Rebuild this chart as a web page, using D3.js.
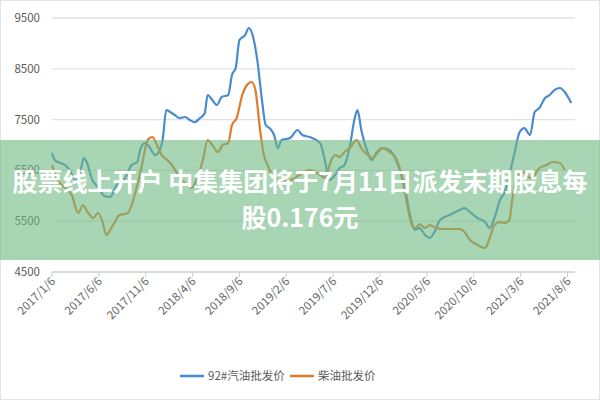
<!DOCTYPE html>
<html><head><meta charset="utf-8">
<script src="https://cdn.jsdelivr.net/npm/d3@7"></script>
<style>body{margin:0;background:#fff}</style>
</head><body>
<svg id="c" width="600" height="400"></svg>
<script>
// months since 2017/1/6 and price
const gasMonth = [0,.3,.9,1.4,1.9,2.5,3.0,3.4,3.7,4.3,4.7,5.1,5.6,6.2,6.9,7.8,8.5,9.1,9.4,9.9,10.4,11.0,11.5,11.8,12.2,12.6,13.1,13.6,14.2,14.7,15.2,15.8,16.3,16.6,17.1,17.6,18.1,18.8,19.2,19.6,20.0,20.6,21.0,21.4,21.9,22.4,22.8,23.2,23.7,24.1,24.5,25.4,26.2,26.7,27.5,28.6,29.1,29.6,30.2,30.7,31.2,31.8,32.3,32.6,33.0,33.6,34.1,34.6,35.2,36.0,36.6,37.1,37.6,38.2,38.7,39.2,39.8,40.3,40.8,41.4,42.4,43.5,44.0,44.6,45.4,46.2,46.7,47.3,47.8,48.3,48.8,49.3,49.9,50.4,51.0,51.5,52.0,52.6,53.1,53.6,54.2,54.7,55.4];
const gasPrice = [6842,6704,6645,6606,6507,6310,6468,6743,6665,6310,6212,6113,5995,5976,6212,6350,6606,6665,6901,7039,6960,6802,6901,7098,7689,7649,7590,7531,7551,7492,7452,7531,7630,7984,7886,7787,7945,7984,8378,8516,9067,9165,9303,9165,8674,7886,7393,7334,7196,6940,7098,7137,7295,7196,7157,7039,6704,6310,6409,6547,6606,7000,7531,7689,7295,6901,6704,6842,6940,6901,6743,6507,6212,5621,5326,5365,5228,5169,5287,5523,5621,5720,5759,5680,5562,5483,5365,5621,5917,6074,6409,6802,7255,7334,7196,7649,7728,7925,7984,8082,8122,8043,7826];
const dieselMonth = [0,.6,1.4,2.1,2.8,3.3,3.8,4.4,4.9,5.4,5.8,6.2,6.7,7.2,8.1,8.5,9.1,9.6,10.2,10.7,11.2,11.7,12.3,12.8,13.6,14.4,14.9,15.6,16.1,16.6,17.1,17.7,18.2,18.8,19.2,19.7,20.3,20.8,21.3,21.7,22.2,22.6,23.0,23.7,24.3,25.4,26.4,27.5,28.6,29.2,29.6,30.2,30.7,31.2,31.8,32.5,33.0,33.7,34.2,34.8,35.3,36.0,36.7,37.1,37.7,38.4,38.8,39.2,39.8,40.3,41.0,41.9,43.5,44.0,44.6,45.4,46.2,46.7,47.2,47.8,48.3,48.8,49.1,49.7,50.4,51.0,51.5,52.0,52.8,53.4,54.2,54.7];
const dieselPrice = [6606,6310,6153,6015,5661,5818,5680,5562,5661,5483,5228,5326,5483,5621,5661,5818,6212,6606,7098,7157,7000,6802,6704,6606,6369,6212,6153,6409,6704,7098,7000,6862,7000,7039,7393,7531,7984,8181,8240,8082,7295,6802,6606,6350,6310,6310,6409,6507,6409,6350,6606,6802,6763,6862,6940,7098,6940,6802,6743,6862,6940,6862,6743,6547,6015,5424,5365,5444,5365,5424,5365,5346,5346,5287,5129,5031,4972,5169,5424,5483,5464,5523,5917,6409,6468,6350,6409,6547,6606,6665,6645,6507];
const tickLabels = ["2017/1/6","2017/6/6","2017/11/6","2018/4/6","2018/9/6","2019/2/6","2019/7/6","2019/12/6","2020/5/6","2020/10/6","2021/3/6","2021/8/6"];
const yTicks = [4500,5500,6500,7500,8500,9500];
const seriesNames = ["92#汽油批发价","柴油批发价"];
const colors = ["#4a8bd0","#e07b2a"];

const svg = d3.select("#c");
const font = "'Microsoft YaHei','Noto Sans CJK SC',sans-serif";
svg.append("rect").attr("x",0.5).attr("y",0.5).attr("width",599).attr("height",399).attr("fill","#fff").attr("stroke","#e3e3e3");

const x = d3.scaleLinear().domain([0,55.8]).range([52,575]);
const y = d3.scaleLinear().domain([4500,9500]).range([272,18]);

svg.append("g").selectAll("line").data(yTicks).join("line")
  .attr("x1",52).attr("x2",575).attr("y1",d=>y(d)).attr("y2",d=>y(d))
  .attr("stroke",d=>d===4500?"#cfcfcf":"#e2e2e2").attr("stroke-width",1.3);
svg.append("g").selectAll("text").data(yTicks).join("text")
  .attr("x",40).attr("y",d=>y(d)+4).attr("text-anchor","end")
  .attr("font-family",font).attr("font-size",11.5).attr("fill","#595959").text(d=>d);

const xt = svg.append("g").selectAll("g").data(tickLabels).join("g")
  .attr("transform",(d,i)=>`translate(${x(i*5)},272)`);
xt.append("line").attr("y2",5).attr("stroke","#cfcfcf");
xt.append("text").attr("transform","translate(4,10) rotate(-45)").attr("text-anchor","end")
  .attr("font-family",font).attr("font-size",11.5).attr("fill","#666").text(d=>d);

const line = d3.line().x(d=>x(d[0])).y(d=>y(d[1])).curve(d3.curveMonotoneX);
[[gasMonth,gasPrice],[dieselMonth,dieselPrice]].forEach(([m,p],k)=>{
  svg.append("path").datum(d3.zip(m,p)).attr("d",line)
    .attr("fill","none").attr("stroke",colors[k]).attr("stroke-width",2.2).attr("stroke-linejoin","round");
});

const lg = svg.append("g").selectAll("g").data(seriesNames).join("g")
  .attr("transform",(d,i)=>`translate(${i?290:180},376)`);
lg.append("line").attr("x2",24).attr("stroke",(d,i)=>colors[i]).attr("stroke-width",2.5);
lg.append("text").attr("x",28).attr("y",4).attr("font-family",font).attr("font-size",11.5).attr("fill","#595959").text(d=>d);

// banner overlay
svg.append("rect").attr("x",0).attr("y",140).attr("width",600).attr("height",120)
  .attr("fill","rgb(110,185,130)").attr("opacity",0.6);
const bt = svg.append("text").attr("text-anchor","middle").attr("font-family",font)
  .attr("font-size",25).attr("font-weight","bold").attr("fill","#fff");
bt.append("tspan").attr("x",300).attr("y",191).text("股票线上开户 中集集团将于7月11日派发末期股息每");
bt.append("tspan").attr("x",300).attr("y",227).text("股0.176元");
</script>
</body></html>
